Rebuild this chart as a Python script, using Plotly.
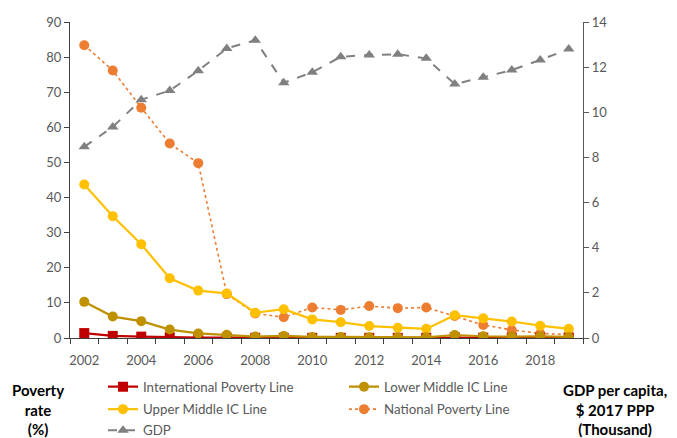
import plotly.graph_objects as go

years = list(range(2002, 2020))
international = [1.4, 0.6, 0.4, 0.2, 0.1, 0.1, 0.05, 0.05, 0.05, 0.05, 0.05, 0.05, 0.05, 0.2, 0.1, 0.1, 0.1, 0.1]
lower_middle = [10.3, 6.1, 4.8, 2.4, 1.3, 0.9, 0.4, 0.6, 0.3, 0.3, 0.2, 0.2, 0.2, 0.85, 0.5, 0.4, 0.5, 0.3]
upper_middle = [43.7, 34.7, 26.7, 17.0, 13.5, 12.7, 7.2, 8.2, 5.3, 4.5, 3.4, 2.9, 2.6, 6.5, 5.6, 4.7, 3.5, 2.6]
national = [83.4, 76.2, 65.6, 55.4, 49.8, 12.5, 7.0, 5.9, 8.7, 8.0, 9.1, 8.5, 8.7, 6.3, 3.7, 2.3, 1.3, 1.0]
gdp = [8.47, 9.35, 10.56, 10.96, 11.84, 12.83, 13.19, 11.31, 11.77, 12.46, 12.54, 12.57, 12.39, 11.25, 11.55, 11.87, 12.32, 12.80]
xtick_vals = list(range(2002, 2020, 2))

FONT = "Lato"
GREY = "#595959"

fig = go.Figure()
fig.add_trace(go.Scatter(x=years, y=national, name="National Poverty Line", legend="legend2", legendrank=2,
                         mode="lines+markers", line=dict(color="#ED7D31", width=1.6, dash="dot"),
                         marker=dict(symbol="circle", size=10, color="#ED7D31")))
fig.add_trace(go.Scatter(x=years, y=international, name="International Poverty Line", legend="legend", legendrank=1,
                         mode="lines+markers", line=dict(color="#C00000", width=2.2),
                         marker=dict(symbol="square", size=10, color="#C00000")))
fig.add_trace(go.Scatter(x=years, y=upper_middle, name="Upper Middle IC Line", legend="legend2", legendrank=1,
                         mode="lines+markers", line=dict(color="#FFC000", width=2.2),
                         marker=dict(symbol="circle", size=10, color="#FFC000")))
fig.add_trace(go.Scatter(x=years, y=lower_middle, name="Lower Middle IC Line", legend="legend", legendrank=2,
                         mode="lines+markers", line=dict(color="#BF9000", width=2.2),
                         marker=dict(symbol="circle", size=10, color="#BF9000")))
fig.add_trace(go.Scatter(x=years, y=gdp, name="GDP", legend="legend3", yaxis="y2",
                         mode="lines+markers", line=dict(color="#808080", width=2, dash="dash"),
                         marker=dict(symbol="triangle-up", size=10, color="#808080")))

def leg(row_y):
    return dict(orientation="h", x=(103 - 70) / 513, xanchor="left", y=(338 - row_y) / 316,
                yanchor="middle", entrywidth=196, entrywidthmode="pixels",
                font=dict(family=FONT, size=13.3, color=GREY), bgcolor="rgba(0,0,0,0)")

fig.update_layout(
    width=677, height=438,
    margin=dict(l=70, r=94, t=22, b=100, autoexpand=False),
    plot_bgcolor="white", paper_bgcolor="white",
    font=dict(family=FONT, size=13, color=GREY),
    xaxis=dict(range=[2001.5, 2019.5], tickmode="array", tickvals=xtick_vals,
               ticktext=[str(v) for v in xtick_vals], ticks="", showgrid=False, zeroline=False,
               showline=True, linecolor="#404040", linewidth=1.3, ticklabelstandoff=10,
               tickfont=dict(size=13, color=GREY),
               minor=dict(tickmode="linear", tick0=2001.5, dtick=1, ticks="outside",
                          ticklen=5, tickcolor="#404040", tickwidth=1, showgrid=False)),
    yaxis=dict(range=[0, 90], dtick=10, ticks="outside", ticklen=5, tickcolor="#404040",
               showgrid=False, zeroline=False, showline=True, linecolor="#404040", linewidth=1.3,
               tickfont=dict(size=13, color=GREY)),
    yaxis2=dict(range=[0, 14], dtick=2, overlaying="y", side="right", ticks="outside", ticklen=5,
                tickcolor=GREY, showgrid=False, zeroline=False, showline=True, linecolor=GREY,
                linewidth=1.3, tickfont=dict(size=13, color=GREY)),
    legend=leg(387),
    legend2=leg(409.5),
    legend3=leg(430.5),
    annotations=[
        dict(text="<b>Poverty<br>rate<br>(%)</b>", xref="paper", yref="paper",
             x=(38 - 70) / 513, y=(338 - 409) / 316, xanchor="center", yanchor="middle",
             showarrow=False, font=dict(family=FONT, size=15, color="#000000")),
        dict(text="<b>GDP per capita,<br>$ 2017 PPP<br>(Thousand)</b>", xref="paper", yref="paper",
             x=(615 - 70) / 513, y=(338 - 409) / 316, xanchor="center", yanchor="middle",
             showarrow=False, font=dict(family=FONT, size=15, color="#000000")),
    ],
)

fig.write_html("out.html")
